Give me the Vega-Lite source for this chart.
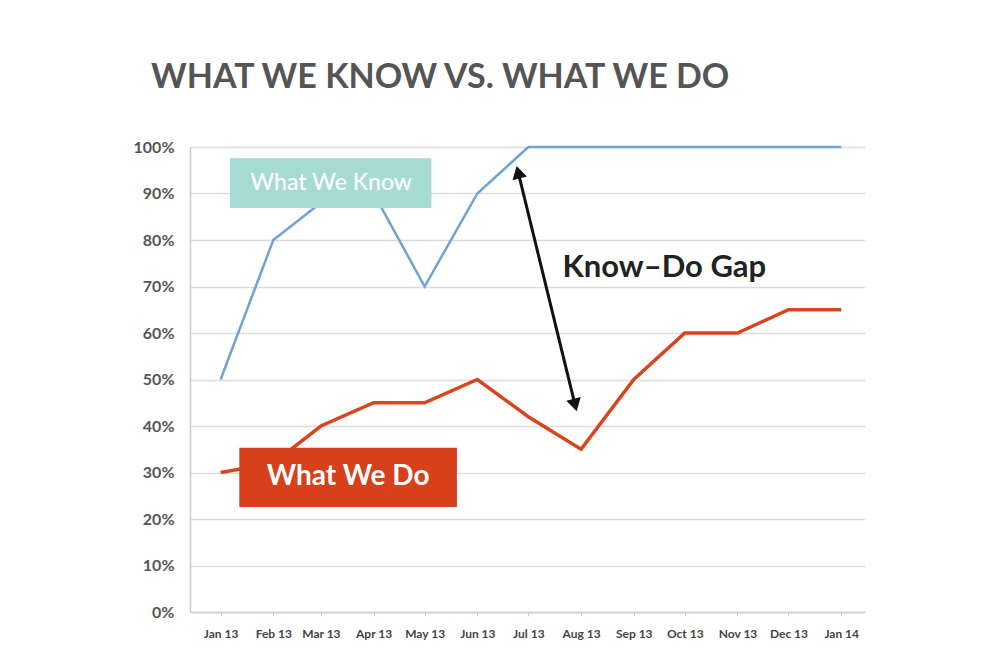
{
  "$schema": "https://vega.github.io/schema/vega-lite/v6.json",
  "width": 675,
  "height": 465,
  "autosize": "none",
  "padding": {"left": 190, "top": 147, "right": 122, "bottom": 51},
  "background": "white",
  "title": {"text": "WHAT WE KNOW VS. WHAT WE DO", "anchor": "start", "dx": 18, "offset": 44, "fontSize": 34, "font": "Lato", "fontWeight": "bold", "color": "#555555"},
  "config": {"view": {"stroke": null}},
  "datasets": {
    "series": [
      {"month": "2013-01-01T00:00", "series": "What We Know", "value": 0.50},
      {"month": "2013-02-01T00:00", "series": "What We Know", "value": 0.80},
      {"month": "2013-03-01T00:00", "series": "What We Know", "value": 0.88},
      {"month": "2013-04-01T00:00", "series": "What We Know", "value": 0.90},
      {"month": "2013-05-01T00:00", "series": "What We Know", "value": 0.70},
      {"month": "2013-06-01T00:00", "series": "What We Know", "value": 0.90},
      {"month": "2013-07-01T00:00", "series": "What We Know", "value": 1.00},
      {"month": "2013-08-01T00:00", "series": "What We Know", "value": 1.00},
      {"month": "2013-09-01T00:00", "series": "What We Know", "value": 1.00},
      {"month": "2013-10-01T00:00", "series": "What We Know", "value": 1.00},
      {"month": "2013-11-01T00:00", "series": "What We Know", "value": 1.00},
      {"month": "2013-12-01T00:00", "series": "What We Know", "value": 1.00},
      {"month": "2014-01-01T00:00", "series": "What We Know", "value": 1.00},
      {"month": "2013-01-01T00:00", "series": "What We Do", "value": 0.30},
      {"month": "2013-02-01T00:00", "series": "What We Do", "value": 0.32},
      {"month": "2013-03-01T00:00", "series": "What We Do", "value": 0.40},
      {"month": "2013-04-01T00:00", "series": "What We Do", "value": 0.45},
      {"month": "2013-05-01T00:00", "series": "What We Do", "value": 0.45},
      {"month": "2013-06-01T00:00", "series": "What We Do", "value": 0.50},
      {"month": "2013-07-01T00:00", "series": "What We Do", "value": 0.42},
      {"month": "2013-08-01T00:00", "series": "What We Do", "value": 0.35},
      {"month": "2013-09-01T00:00", "series": "What We Do", "value": 0.50},
      {"month": "2013-10-01T00:00", "series": "What We Do", "value": 0.60},
      {"month": "2013-11-01T00:00", "series": "What We Do", "value": 0.60},
      {"month": "2013-12-01T00:00", "series": "What We Do", "value": 0.65},
      {"month": "2014-01-01T00:00", "series": "What We Do", "value": 0.65}
    ],
    "boxes": [
      {"label": "What We Know", "start": "2013-01-06T12:00", "end": "2013-05-05T00:00", "top": 0.976, "bottom": 0.869, "cx": "2013-03-07T00:00", "cy": 0.923},
      {"label": "What We Do", "start": "2013-01-12T00:00", "end": "2013-05-20T00:00", "top": 0.353, "bottom": 0.226, "cx": "2013-03-17T00:00", "cy": 0.29}
    ],
    "gap": [
      {"label": "Know–Do Gap", "cx": "2013-09-19T00:00", "cy": 0.74}
    ],
    "arrow": [
      {"end": "top", "month": "2013-06-25T00:00", "value": 0.946},
      {"end": "bottom", "month": "2013-07-28T12:00", "value": 0.445}
    ],
    "arrowline": [
      {"x1": "2013-06-25T00:00", "y1": 0.946, "x2": "2013-07-28T12:00", "y2": 0.445}
    ]
  },
  "layer": [
    {
      "data": {"name": "series"},
      "transform": [{"filter": "datum.series === 'What We Know'"}],
      "mark": {"type": "line", "color": "#6fa3d5", "strokeWidth": 2.5},
      "encoding": {
        "x": {"field": "month", "type": "temporal",
              "scale": {"domain": [{"year": 2012, "month": 12, "date": 14}, {"year": 2014, "month": 1, "date": 15}]},
              "axis": {"title": null, "format": "%b %y", "tickCount": {"interval": "month", "step": 1}, "grid": false,
                       "domainColor": "#cccccc", "domainWidth": 1.5, "tickColor": "#cccccc", "tickSize": 4,
                       "labelFont": "Lato", "labelFontSize": 12, "labelFontWeight": "bold", "labelColor": "#444444", "labelPadding": 12, "labelFlush": false}},
        "y": {"field": "value", "type": "quantitative",
              "scale": {"domain": [0, 1]},
              "axis": {"title": null, "format": ".0%", "values": [0, 0.1, 0.2, 0.3, 0.4, 0.5, 0.6, 0.7, 0.8, 0.9, 1],
                       "grid": true, "gridColor": "#dcdcdc", "gridWidth": 1.5, "ticks": false,
                       "domainColor": "#cccccc", "domainWidth": 1.5,
                       "labelFont": "Lato", "labelFontSize": 16, "labelFontWeight": "bold", "labelColor": "#555555", "labelPadding": 16}}
      }
    },
    {
      "data": {"name": "series"},
      "transform": [{"filter": "datum.series === 'What We Do'"}],
      "mark": {"type": "line", "color": "#d9441d", "strokeWidth": 3.5},
      "encoding": {
        "x": {"field": "month", "type": "temporal"},
        "y": {"field": "value", "type": "quantitative"}
      }
    },
    {
      "data": {"name": "boxes"},
      "mark": {"type": "rect"},
      "encoding": {
        "x": {"field": "start", "type": "temporal"},
        "x2": {"field": "end"},
        "y": {"field": "top", "type": "quantitative"},
        "y2": {"field": "bottom"},
        "color": {"field": "label", "type": "nominal", "scale": {"domain": ["What We Know", "What We Do"], "range": ["#a6dbd4", "#d6401a"]}, "legend": null}
      }
    },
    {
      "data": {"name": "boxes"},
      "transform": [{"filter": "datum.label === 'What We Know'"}],
      "mark": {"type": "text", "font": "Lato", "fontSize": 23, "fontWeight": 500, "color": "white", "align": "center", "baseline": "middle"},
      "encoding": {
        "x": {"field": "cx", "type": "temporal"},
        "y": {"field": "cy", "type": "quantitative"},
        "text": {"field": "label"}
      }
    },
    {
      "data": {"name": "boxes"},
      "transform": [{"filter": "datum.label === 'What We Do'"}],
      "mark": {"type": "text", "font": "Lato", "fontSize": 28, "fontWeight": "bold", "color": "white", "align": "center", "baseline": "middle"},
      "encoding": {
        "x": {"field": "cx", "type": "temporal"},
        "y": {"field": "cy", "type": "quantitative"},
        "text": {"field": "label"}
      }
    },
    {
      "data": {"name": "gap"},
      "mark": {"type": "text", "font": "Lato", "fontSize": 31, "fontWeight": "bold", "color": "#222222", "align": "center", "baseline": "middle"},
      "encoding": {
        "x": {"field": "cx", "type": "temporal"},
        "y": {"field": "cy", "type": "quantitative"},
        "text": {"field": "label"}
      }
    },
    {
      "data": {"name": "arrowline"},
      "mark": {"type": "rule", "color": "#111111", "strokeWidth": 3},
      "encoding": {
        "x": {"field": "x1", "type": "temporal"},
        "x2": {"field": "x2"},
        "y": {"field": "y1", "type": "quantitative"},
        "y2": {"field": "y2"}
      }
    },
    {
      "data": {"name": "arrow"},
      "transform": [{"filter": "datum.end === 'top'"}],
      "mark": {"type": "point", "shape": "triangle-up", "filled": true, "color": "#111111", "size": 220, "angle": 346, "opacity": 1},
      "encoding": {
        "x": {"field": "month", "type": "temporal"},
        "y": {"field": "value", "type": "quantitative"}
      }
    },
    {
      "data": {"name": "arrow"},
      "transform": [{"filter": "datum.end === 'bottom'"}],
      "mark": {"type": "point", "shape": "triangle-down", "filled": true, "color": "#111111", "size": 220, "angle": 346, "opacity": 1},
      "encoding": {
        "x": {"field": "month", "type": "temporal"},
        "y": {"field": "value", "type": "quantitative"}
      }
    }
  ]
}
